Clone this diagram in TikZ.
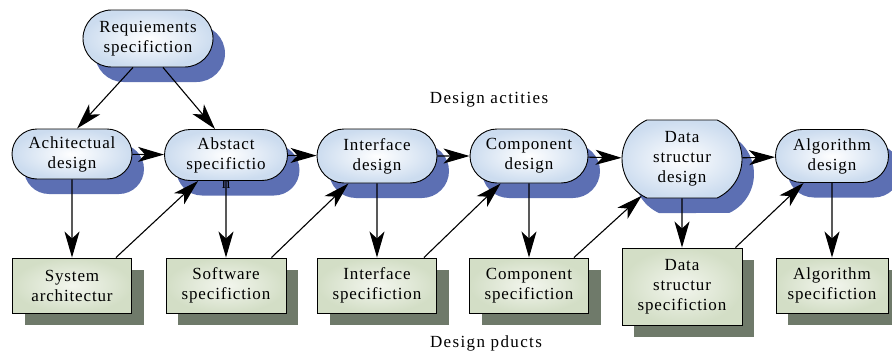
\documentclass[tikz,border=0pt]{standalone}
\usepackage{fontspec}
\setmainfont{Liberation Serif}[LetterSpace=5]
\usetikzlibrary{arrows.meta,shapes.misc,shadows}

\definecolor{pillshadow}{HTML}{5C6FB3}
\definecolor{pillfill}{HTML}{CCDCEF}
\definecolor{prodshadow}{HTML}{6F7A6A}
\definecolor{prodfill}{HTML}{D3DEC6}
\definecolor{prodinner}{HTML}{F3F6EE}

\tikzset{
  txt/.style={align=center, inner sep=0pt, font=\fontsize{17}{20}\selectfont},
  pill/.style={txt, rounded rectangle, draw=black, line width=0.9pt,
    inner color=white, outer color=pillfill,
    general shadow={shadow xshift=12pt, shadow yshift=-15pt, fill=pillshadow}},
  prod/.style={txt, rectangle, draw=black, line width=0.9pt,
    inner color=prodinner, outer color=prodfill,
    general shadow={shadow xshift=12pt, shadow yshift=-12pt, fill=prodshadow}},
  arr/.style={-{Stealth[length=26pt,width=15pt,inset=7pt]}, line width=1.1pt},
  caption/.style={inner sep=0pt,
    font=\fontsize{17}{20}\selectfont\addfontfeature{LetterSpace=8}},
}

\begin{document}
\begin{tikzpicture}[x=1pt,y=-1pt]
  \useasboundingbox (0,0) rectangle (892,356);

  % design activities
  \node[pill, minimum width=130pt, minimum height=57pt] (req) at (148,38.5)
    {Requiements\\specifiction};
  \node[pill, minimum width=120pt, minimum height=50pt] (arch) at (72,154)
    {Achitectual\\design};
  \node[pill, minimum width=123pt, minimum height=51pt,
        label={[txt, anchor=north, yshift=1pt]south:n}] (abs) at (226,155)
    {Abstact\\specifictio};
  \node[pill, minimum width=120pt, minimum height=54pt] (ifd) at (377,156)
    {Interface\\design};
  \node[pill, minimum width=118pt, minimum height=54pt] (cmd) at (529,156)
    {Component\\design};
  \node[pill, rounded rectangle arc length=130, minimum width=120pt,
        minimum height=78pt] (dsd) at (682,159)
    {Data\\structur\\design};
  \node[pill, minimum width=113pt, minimum height=53pt] (alg) at (832,156)
    {Algorithm\\design};

  % design products
  \node[prod, minimum width=119pt, minimum height=55pt] (sys) at (72,285.5)
    {System\\architectur};
  \node[prod, minimum width=120pt, minimum height=55pt] (sws) at (226,285.5)
    {Software\\specifiction};
  \node[prod, minimum width=119pt, minimum height=55pt] (ifs) at (377,285.5)
    {Interface\\specifiction};
  \node[prod, minimum width=119pt, minimum height=55pt] (cms) at (529,285.5)
    {Component\\specifiction};
  \node[prod, minimum width=120pt, minimum height=77pt] (dss) at (682,286.5)
    {Data\\structur\\specifiction};
  \node[prod, minimum width=112pt, minimum height=55pt] (als) at (832,285.5)
    {Algorithm\\specifiction};

  % captions
  \node[caption] (acts) at (489,100) {Design actities};
  \node[caption] (prods) at (486,343) {Design pducts};

  % from the requirements
  \coordinate (r1) at ([xshift=-15pt]req.south);
  \coordinate (r2) at ([xshift=15pt]req.south);
  \coordinate (a1) at ([xshift=5pt]arch.north);
  \coordinate (a2) at ([xshift=-11pt]abs.north);
  \draw[arr] (r1) -- (a1);
  \draw[arr] (r2) -- (a2);

  % chain of activities
  \draw[arr] (arch) -- (abs);
  \draw[arr] (abs) -- (ifd);
  \draw[arr] (ifd) -- (cmd);
  \draw[arr] (cmd) -- (dsd);
  \draw[arr] (dsd) -- (alg);

  % each activity yields a product
  \draw[arr] (arch) -- (sys);
  \draw[arr] (abs) -- (sws);
  \draw[arr] (ifd) -- (ifs);
  \draw[arr] (cmd) -- (cms);
  \draw[arr] (dsd) -- (dss);
  \draw[arr] (alg) -- (als);

  % each product feeds the next activity
  \coordinate (p1) at ([xshift=-16pt]sys.north east);
  \coordinate (p2) at ([xshift=-15pt]sws.north east);
  \coordinate (p3) at ([xshift=-13pt]ifs.north east);
  \coordinate (p4) at ([xshift=-15pt]cms.north east);
  \coordinate (p5) at ([xshift=-7pt]dss.north east);
  \draw[arr] (p1) -- (abs);
  \draw[arr] (p2) -- (ifd);
  \draw[arr] (p3) -- (cmd);
  \draw[arr] (p4) -- (dsd);
  \draw[arr] (p5) -- (alg);
\end{tikzpicture}
\end{document}
